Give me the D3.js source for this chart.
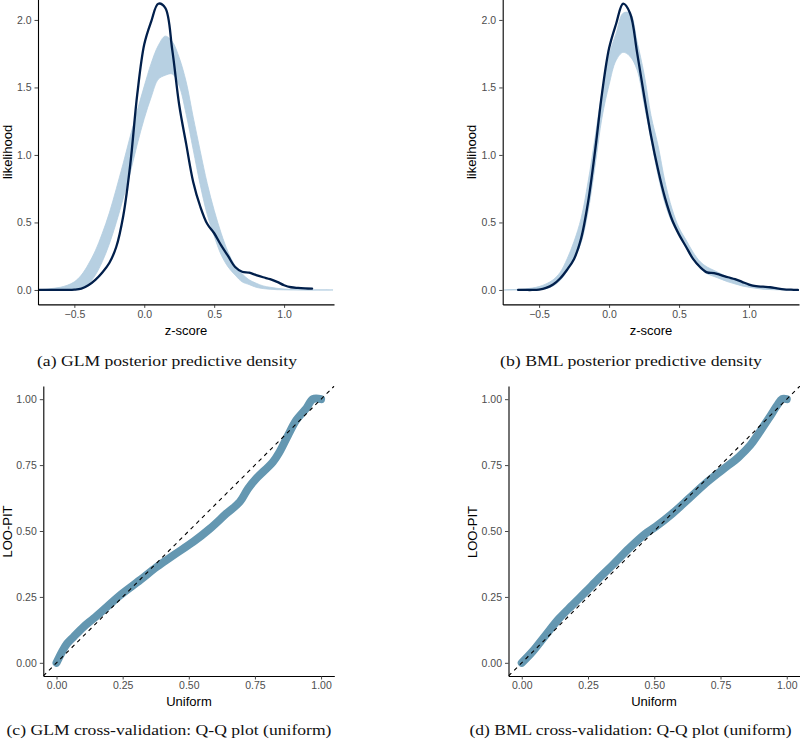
<!DOCTYPE html>
<html>
<head>
<meta charset="utf-8">
<script src="https://cdn.jsdelivr.net/npm/d3@7"></script>
<style>
  html, body { margin: 0; padding: 0; background: #ffffff; }
  svg { display: block; }
</style>
</head>
<body>
<svg id="chart" width="800" height="748"></svg>
<script>
// ---------------- DATA ----------------
// z-score grid for the density curves
const zGrid = [-0.75,-0.70,-0.65,-0.60,-0.55,-0.50,-0.45,-0.40,-0.35,-0.30,-0.25,-0.20,-0.15,-0.10,-0.05,
  0.00,0.05,0.10,0.15,0.20,0.25,0.30,0.35,0.40,0.45,0.50,0.55,0.60,0.65,0.70,0.75,0.80,0.85,0.90,0.95,
  1.00,1.05,1.10,1.15,1.20,1.25,1.30,1.35];

// (a) GLM: envelope of the replicated densities (y_rep) and observed density (y)
const glmYrepHigh = [0.003,0.006,0.012,0.02,0.035,0.06,0.11,0.19,0.29,0.42,0.57,0.75,0.94,1.14,1.33,
  1.51,1.68,1.81,1.88,1.84,1.72,1.54,1.28,1.03,0.79,0.59,0.42,0.28,0.18,0.12,0.075,0.05,0.03,0.02,0.012,
  0.007,0.004,0.002,0.001,0,0,0,0];
const glmYrepLow = [0,0,0.001,0.002,0.004,0.008,0.018,0.045,0.11,0.21,0.34,0.50,0.68,0.87,1.08,
  1.27,1.43,1.56,1.59,1.60,1.51,1.30,1.04,0.78,0.56,0.40,0.26,0.17,0.11,0.06,0.04,0.02,0.01,0.005,0.002,
  0.001,0,0,0,0,0,0,0];
const glmObs = [0,0,0,0,0,0.002,0.01,0.035,0.075,0.13,0.20,0.32,0.55,0.93,1.45,
  1.82,1.99,2.12,2.09,1.78,1.37,1.08,0.80,0.62,0.49,0.42,0.33,0.25,0.17,0.135,0.128,0.11,0.094,0.08,0.06,
  0.035,0.02,0.015,0.012,0.01,null,null,null];

// (b) BML
const bmlYrepHigh = [0,0.002,0.004,0.008,0.014,0.025,0.045,0.075,0.13,0.23,0.36,0.53,0.80,1.13,1.47,
  1.74,1.90,2.05,2.05,1.84,1.60,1.29,1.07,0.80,0.60,0.46,0.37,0.28,0.21,0.17,0.145,0.12,0.095,0.075,0.055,
  0.045,0.03,0.02,0.012,0.008,0.004,0.002,0];
const bmlYrepLow = [0,0,0,0.001,0.002,0.004,0.01,0.03,0.07,0.14,0.23,0.35,0.58,0.92,1.28,
  1.52,1.70,1.76,1.73,1.63,1.38,1.11,0.85,0.64,0.50,0.41,0.31,0.23,0.16,0.12,0.10,0.08,0.06,0.045,0.03,
  0.02,0.012,0.006,0.003,0.001,0,0,0];
const bmlObs = [null,null,0,0,0,0.003,0.015,0.04,0.085,0.15,0.23,0.38,0.65,1.03,1.46,
  1.79,1.97,2.12,2.05,1.76,1.44,1.14,0.89,0.68,0.52,0.41,0.32,0.23,0.17,0.13,0.125,0.11,0.094,0.08,0.06,
  0.04,0.028,0.024,0.02,0.012,0.005,0.002,0];

// (c) GLM LOO-PIT Q-Q
const glmUnif = [0,0.021,0.04,0.065,0.103,0.14,0.19,0.241,0.316,0.379,0.442,0.517,0.58,0.642,0.693,0.724,0.755,0.818,0.843,0.875,0.906,0.944,0.969,1.0];
const glmPit  = [0,0.042,0.073,0.099,0.137,0.168,0.212,0.257,0.314,0.364,0.408,0.459,0.509,0.566,0.611,0.661,0.699,0.762,0.80,0.863,0.92,0.965,1.0,1.0];

// (d) BML LOO-PIT Q-Q
const bmlUnif = [0,0.04,0.09,0.141,0.191,0.241,0.291,0.342,0.405,0.467,0.505,0.568,0.631,0.693,0.756,0.819,0.863,0.894,0.932,0.964,0.982,1.0];
const bmlPit  = [0,0.042,0.105,0.168,0.219,0.269,0.32,0.37,0.434,0.49,0.516,0.566,0.623,0.68,0.731,0.781,0.826,0.87,0.927,0.977,1.0,1.0];

// tick values
const densXTicks = [-0.5, 0, 0.5, 1.0];
const densYTicks = [0, 0.5, 1.0, 1.5, 2.0];
const qqTicks = [0, 0.25, 0.5, 0.75, 1.0];

const captions = [
  "(a) GLM posterior predictive density",
  "(b) BML posterior predictive density",
  "(c) GLM cross-validation: Q-Q plot (uniform)",
  "(d) BML cross-validation: Q-Q plot (uniform)"
];

// ---------------- STYLE ----------------
const COL_LIGHT = "#b3cde0";
const COL_DARK = "#011f4b";
const COL_MID = "#6497b1";
const SANS = "'Liberation Sans', Arial, Helvetica, sans-serif";
const SERIF = "'Liberation Serif', 'Times New Roman', serif";

const svg = d3.select("#chart");

function drawAxes(g, x, y, xTicks, yTicks, fmtX, fmtY) {
  const xa = d3.axisBottom(x).tickValues(xTicks).tickFormat(fmtX).tickSize(3.5).tickSizeOuter(0).tickPadding(2.5);
  const ya = d3.axisLeft(y).tickValues(yTicks).tickFormat(fmtY).tickSize(3.5).tickSizeOuter(0).tickPadding(3);
  const gx = g.append("g").attr("transform", `translate(0,${y.range()[0]})`).call(xa);
  const gy = g.append("g").attr("transform", `translate(${x.range()[0]},0)`).call(ya);
  [gx, gy].forEach(a => {
    a.select(".domain").attr("stroke", "#000").attr("stroke-width", 1.1);
    a.selectAll(".tick line").attr("stroke", "#333").attr("stroke-width", 0.9);
    a.selectAll(".tick text").attr("fill", "#4d4d4d").style("font-family", SANS).style("font-size", "10.5px");
  });
}

function axisTitle(text, x, y, rotate) {
  const t = svg.append("text")
    .attr("text-anchor", "middle")
    .style("font-family", SANS).style("font-size", "13px").attr("fill", "#000")
    .text(text);
  if (rotate) t.attr("transform", `translate(${x},${y}) rotate(-90)`);
  else t.attr("x", x).attr("y", y);
}

function caption(text, cx, y, w) {
  svg.append("text")
    .attr("x", cx).attr("y", y)
    .attr("text-anchor", "middle")
    .attr("textLength", w).attr("lengthAdjust", "spacingAndGlyphs")
    .style("font-family", SERIF).style("font-size", "15px").attr("fill", "#111")
    .text(text);
}

let clipId = 0;
function clipRect(x, y) {
  const id = "clip" + (clipId++);
  const x0 = x.range()[0], x1 = x.range()[1];
  const y0 = Math.min(...y.range()), y1 = Math.max(...y.range());
  svg.append("clipPath").attr("id", id).append("rect")
    .attr("x", x0).attr("y", y0).attr("width", x1 - x0).attr("height", y1 - y0);
  return `url(#${id})`;
}

// ---------- density panels ----------
function densityPanel(xRange, yrepHigh, yrepLow, obs) {
  const x = d3.scaleLinear().domain([-0.76, 1.357]).range(xRange);
  const y = d3.scaleLinear().domain([-0.107, 2.247]).range([304.4, -13.4]);
  const g = svg.append("g");
  const clip = clipRect(x, y);
  const body = g.append("g").attr("clip-path", clip);
  const rows = zGrid.map((z, i) => ({ z, hi: yrepHigh[i], lo: yrepLow[i], obs: obs[i] }));
  const curve = d3.curveCatmullRom.alpha(0.5);
  body.append("path").datum(rows)
    .attr("d", d3.area().x(d => x(d.z)).y0(d => y(d.lo)).y1(d => y(d.hi)).curve(curve))
    .attr("fill", COL_LIGHT).attr("fill-opacity", 0.95)
    .attr("stroke", COL_LIGHT).attr("stroke-width", 0.8);
  body.append("path").datum(rows)
    .attr("d", d3.line().defined(d => d.obs !== null).x(d => x(d.z)).y(d => y(d.obs)).curve(curve))
    .attr("fill", "none").attr("stroke", COL_DARK).attr("stroke-width", 2.3)
    .attr("stroke-linejoin", "round").attr("stroke-linecap", "round");
  drawAxes(g, x, y, densXTicks, densYTicks, d3.format(".1f"), d3.format(".1f"));
  return { x, y };
}

// ---------- QQ panels ----------
function qqPanel(xRange, unif, pit) {
  const x = d3.scaleLinear().domain([-0.05, 1.05]).range(xRange);
  const y = d3.scaleLinear().domain([-0.05, 1.05]).range([676, 386]);
  const g = svg.append("g");
  const clip = clipRect(x, y);
  const body = g.append("g").attr("clip-path", clip);
  const pts = unif.map((u, i) => ({ u, p: pit[i] }));
  body.append("path").datum(pts)
    .attr("d", d3.line().x(d => x(d.u)).y(d => y(d.p)).curve(d3.curveCatmullRom.alpha(0.5)))
    .attr("fill", "none").attr("stroke", COL_MID).attr("stroke-width", 8)
    .attr("stroke-linejoin", "round").attr("stroke-linecap", "round");
  body.append("line")
    .attr("x1", x(-0.05)).attr("y1", y(-0.05)).attr("x2", x(1.05)).attr("y2", y(1.05))
    .attr("stroke", "#000").attr("stroke-width", 1.1).attr("stroke-dasharray", "4,4");
  drawAxes(g, x, y, qqTicks, qqTicks, d3.format(".2f"), d3.format(".2f"));
  return { x, y };
}

densityPanel([38, 334], glmYrepHigh, glmYrepLow, glmObs);
densityPanel([502.7, 799], bmlYrepHigh, bmlYrepLow, bmlObs);
qqPanel([43.3, 334.3], glmUnif, glmPit);
qqPanel([508.5, 800], bmlUnif, bmlPit);

// axis titles
axisTitle("z-score", 186, 334.5, false);
axisTitle("z-score", 651, 334.5, false);
axisTitle("likelihood", 11.5, 152, true);
axisTitle("likelihood", 475.5, 152, true);
axisTitle("Uniform", 189, 706, false);
axisTitle("Uniform", 654, 706, false);
axisTitle("LOO-PIT", 11.5, 531.5, true);
axisTitle("LOO-PIT", 476.5, 532, true);

// captions
caption(captions[0], 167, 365.5, 260);
caption(captions[1], 631, 365.5, 262);
caption(captions[2], 169, 734.5, 325);
caption(captions[3], 630.5, 734.5, 322);
</script>
</body>
</html>
